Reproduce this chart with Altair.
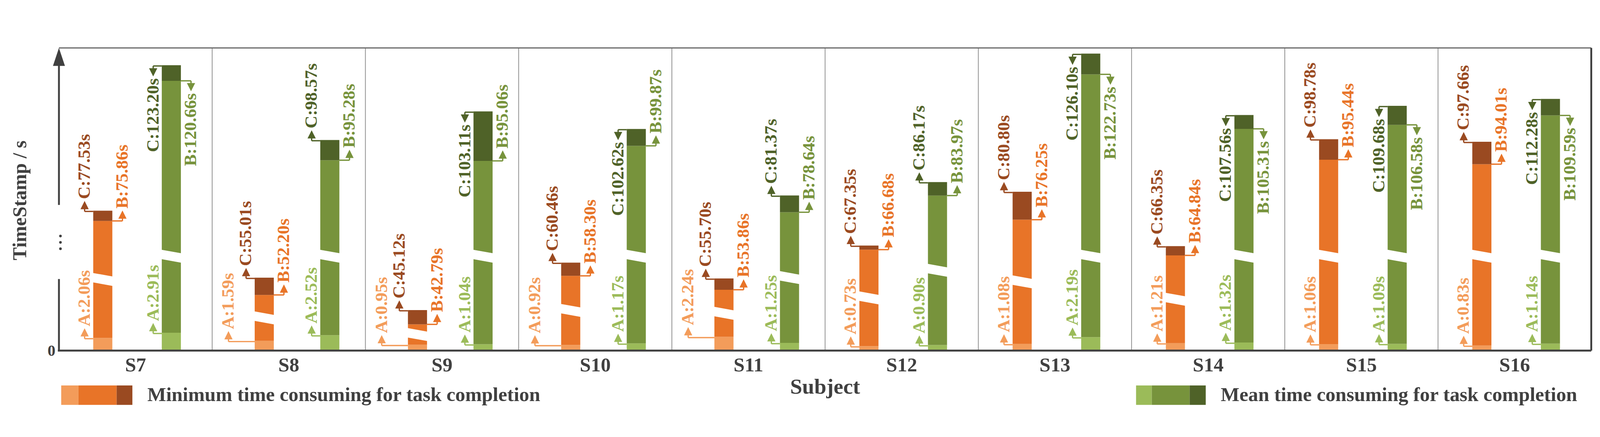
import altair as alt
import pandas as pd

# ---------------- data ----------------
subjects = ["S7", "S8", "S9", "S10", "S11", "S12", "S13", "S14", "S15", "S16"]
min_a = [2.06, 1.59, 0.95, 0.92, 2.24, 0.73, 1.08, 1.21, 1.06, 0.83]
min_b = [75.86, 52.20, 42.79, 58.30, 53.86, 66.68, 76.25, 64.84, 95.44, 94.01]
min_c = [77.53, 55.01, 45.12, 60.46, 55.70, 67.35, 80.80, 66.35, 98.78, 97.66]
mean_a = [2.91, 2.52, 1.04, 1.17, 1.25, 0.90, 2.19, 1.32, 1.09, 1.14]
mean_b = [120.66, 95.28, 95.06, 99.87, 78.64, 83.97, 122.73, 105.31, 106.58, 109.59]
mean_c = [123.20, 98.57, 103.11, 102.62, 81.37, 86.17, 126.10, 107.56, 109.68, 112.28]
legend_labels = ["Minimum time consuming for task completion",
                 "Mean time consuming for task completion"]
y_title = "TimeStamp / s"
x_title = "Subject"
zero_label = "0"

# ---------------- layout / style ----------------
PLOT_W, PLOT_H = 4090, 808
N = len(subjects)
PANEL = PLOT_W / N
BAR = 51
# broken (schematic) time axis: fine scale for short spans, compressed scale above the break
LOW_PX, HIGH_PX, HIGH_START = 16.4, 8.35, 34.4
FS = 47
FONT = "Liberation Serif"
INK = "#404040"

palette = {
    "min_A": "#F39C5A", "min_B": "#E87428", "min_C": "#9A4A21",
    "mean_A": "#9BBB59", "mean_B": "#77933C", "mean_C": "#4F6228",
}
keys = list(palette.keys())
col = alt.Color("key:N", scale=alt.Scale(domain=keys, range=[palette[k] for k in keys]), legend=None)


def ux(px):
    return px / PANEL


EM = {"A": 0.722, "B": 0.667, "C": 0.722, ":": 0.333, ".": 0.25, "s": 0.389}


def text_len(s):
    return FS * sum(EM.get(ch, 0.5) for ch in s)


def heights(a, b, c):
    a_h = LOW_PX * a
    b_h = HIGH_PX * (b - HIGH_START)
    c_h = b_h + LOW_PX * (c - b)
    return a_h, b_h, c_h


rects, gaps, rules, arrows, texts = [], [], [], [], []


def label(edge_x, elbow_x, level, txt, key, up):
    s = 1 if up else -1
    d = "up" if up else "down"
    rules.append(dict(x=edge_x, x2=elbow_x, y=level, y2=level, key=key))
    rules.append(dict(x=elbow_x, x2=elbow_x, y=level, y2=level + s * 10, key=key))
    arrows.append(dict(x=elbow_x, y=level + s * 17, dir=d, key=key))
    texts.append(dict(x=elbow_x, y=level + s * 33, text=txt, dir=d, key=key))


TOP = PLOT_H - 8
for i, subj in enumerate(subjects):
    vals = {"min": (min_a[i], min_b[i], min_c[i]), "mean": (mean_a[i], mean_b[i], mean_c[i])}
    geo = {g: heights(*v) for g, v in vals.items()}
    a_h, b_h, c_h = geo["min"]
    shifted = a_h + 30 + text_len(f"A:{min_a[i]:.2f}s") + 50 > c_h
    offs = {"min": 139 if shifted else 117, "mean": 314 if shifted else 300}
    for g, (a, b, c) in vals.items():
        a_h, b_h, c_h = geo[g]
        xc = i + ux(offs[g])
        xl, xr = xc - ux(BAR / 2), xc + ux(BAR / 2)
        for seg, y0, y1 in (("A", 0, a_h), ("B", a_h, b_h), ("C", b_h, c_h)):
            rects.append(dict(x=xl, x2=xr, y=y0, y2=y1, key=f"{g}_{seg}"))
        gaps.append(dict(x=xc, y=min((a_h + b_h) / 2, 252)))
        ta, tb, tc = f"A:{a:.2f}s", f"B:{b:.2f}s", f"C:{c:.2f}s"
        c_up = c_h - 2 + 33 + text_len(tc) <= TOP
        b_up = b_h + 33 + text_len(tb) <= TOP
        label(xl, xl - ux(23), c_h - 2, tc, f"{g}_C", c_up)
        label(xr, xr + ux(27), b_h, tb, f"{g}_B", b_up)
        a_out = 70 if (g == "min" and shifted) else 23
        label(xl, xl - ux(a_out), max(a_h - 2, 3), ta, f"{g}_A", True)

xs = alt.Scale(domain=[0, N], nice=False, zero=False)
ys = alt.Scale(domain=[0, PLOT_H], nice=False, zero=False)


def X(f="x"):
    return alt.X(f"{f}:Q", scale=xs, axis=None)


def Y(f="y"):
    return alt.Y(f"{f}:Q", scale=ys, axis=None)


def seg_rule(df, color, width):
    return alt.Chart(pd.DataFrame(df)).mark_rule(color=color, strokeWidth=width).encode(
        x=X(), x2="x2:Q", y=Y(), y2="y2:Q")


# frame
sep = seg_rule([dict(x=k, x2=k, y=0, y2=PLOT_H) for k in range(1, N)], "#8c8c8c", 2)
top_line = seg_rule([dict(x=0, x2=N, y=PLOT_H, y2=PLOT_H)], "#666666", 3)
right_line = seg_rule([dict(x=N, x2=N, y=0, y2=PLOT_H)], INK, 5)
base_line = seg_rule([dict(x=-ux(3), x2=N, y=0, y2=0)], INK, 5)
y_axis = seg_rule([dict(x=0, x2=0, y=0, y2=191), dict(x=0, x2=0, y=389, y2=PLOT_H - 40)], INK, 5)
y_arrow = alt.Chart(pd.DataFrame([dict(x=0, y=PLOT_H - 24)])).mark_point(
    shape="M0,-1.5L1,1.5L-1,1.5Z", size=1024, filled=True, opacity=1, color=INK, strokeWidth=0
).encode(x=X(), y=Y())
dots = alt.Chart(pd.DataFrame([dict(x=ux(4), y=v) for v in (306, 289, 272)])).mark_point(
    shape="circle", size=50, filled=True, opacity=1, color=INK, strokeWidth=0
).encode(x=X(), y=Y())

bars = alt.Chart(pd.DataFrame(rects)).mark_rect().encode(x=X(), x2="x2:Q", y=Y(), y2="y2:Q", color=col)
GAP_W = 56
gap_marks = alt.Chart(pd.DataFrame(gaps)).mark_point(
    shape="M-1,-0.63L1,-0.27L1,0.63L-1,0.27Z", size=GAP_W ** 2, filled=True, opacity=1,
    color="white", strokeWidth=0
).encode(x=X(), y=Y())

conn = alt.Chart(pd.DataFrame(rules)).mark_rule(strokeWidth=3.5).encode(
    x=X(), x2="x2:Q", y=Y(), y2="y2:Q", color=col)
heads = alt.Chart(pd.DataFrame(arrows)).mark_point(filled=True, opacity=1, size=484, strokeWidth=0).encode(
    x=X(), y=Y(), color=col,
    shape=alt.Shape("dir:N", scale=alt.Scale(domain=["up", "down"],
                                             range=["M0,-1L1,1L-1,1Z", "M0,1L1,-1L-1,-1Z"]), legend=None))
tdf = pd.DataFrame(texts)
lab_up = alt.Chart(tdf).transform_filter("datum.dir == 'up'").mark_text(
    angle=270, align="left", baseline="middle", font=FONT, fontWeight="bold", fontSize=FS
).encode(x=X(), y=Y(), text="text:N", color=col)
lab_down = alt.Chart(tdf).transform_filter("datum.dir == 'down'").mark_text(
    angle=270, align="right", baseline="middle", font=FONT, fontWeight="bold", fontSize=FS
).encode(x=X(), y=Y(), text="text:N", color=col)

# axis texts
zero_t = alt.Chart(pd.DataFrame([dict(x=-ux(20), y=-1, t=zero_label)])).mark_text(
    font=FONT, fontWeight="bold", fontSize=42, color=INK, baseline="middle", align="center"
).encode(x=X(), y=Y(), text="t:N")
ytitle = alt.Chart(pd.DataFrame([dict(x=-ux(103), y=401, t=y_title)])).mark_text(
    font=FONT, fontWeight="bold", fontSize=52, color=INK, angle=270, baseline="middle", align="center"
).encode(x=X(), y=Y(), text="t:N")
subj_t = alt.Chart(pd.DataFrame([dict(x=i + 0.5, y=-56, t=s) for i, s in enumerate(subjects)])).mark_text(
    font=FONT, fontWeight="bold", fontSize=53, color=INK, baseline="alphabetic", align="center"
).encode(x=X(), y=Y(), text="t:N")
xtitle = alt.Chart(pd.DataFrame([dict(x=N / 2, y=-115, t=x_title)])).mark_text(
    font=FONT, fontWeight="bold", fontSize=58, color=INK, baseline="alphabetic", align="center"
).encode(x=X(), y=Y(), text="t:N")

# legend
leg_rects = []
for g, start, widths in (("min", 6, (46, 102, 42)), ("mean", 2875, (42, 101, 43))):
    x0 = start
    for seg, w in zip("ABC", widths):
        leg_rects.append(dict(x=ux(x0), x2=ux(x0 + w), y=-93, y2=-145, key=f"{g}_{seg}"))
        x0 += w
leg_sw = alt.Chart(pd.DataFrame(leg_rects)).mark_rect().encode(
    x=X(), x2="x2:Q", y=Y(), y2="y2:Q", color=col)
leg_t = alt.Chart(pd.DataFrame([dict(x=ux(236), y=-135, t=legend_labels[0]),
                                dict(x=ux(3101), y=-135, t=legend_labels[1])])).mark_text(
    font=FONT, fontWeight="bold", fontSize=53, color=INK, baseline="alphabetic", align="left"
).encode(x=X(), y=Y(), text="t:N")

chart = alt.layer(
    sep, bars, gap_marks, top_line, right_line, base_line, y_axis, y_arrow, dots,
    conn, heads, lab_up, lab_down, zero_t, ytitle, subj_t, xtitle, leg_sw, leg_t
).properties(
    width=PLOT_W, height=PLOT_H,
    padding={"left": 149, "top": 97, "right": 15, "bottom": 160},
    autosize=alt.AutoSizeParams(type="none"),
    background="white",
).configure_view(stroke=None)

chart.save("out.html", embed_options={"renderer": "svg", "actions": False})
